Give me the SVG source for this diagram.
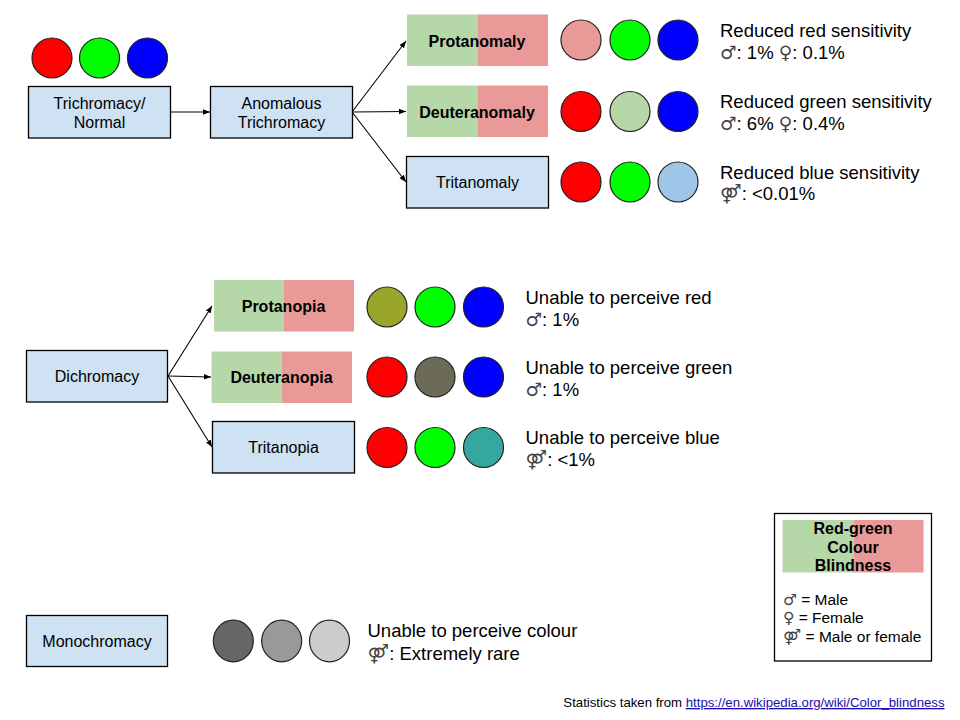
<svg xmlns="http://www.w3.org/2000/svg" width="960" height="720" viewBox="0 0 960 720">
<defs>
<marker id="arr" viewBox="0 0 10 10" refX="10" refY="5" markerWidth="7" markerHeight="7" markerUnits="userSpaceOnUse" orient="auto">
<path d="M0,1 L10,5 L0,9 z" fill="#000"/>
</marker>
<style>
text{font-family:"Liberation Sans",Arial,"DejaVu Sans",sans-serif;fill:#000}
.sym{font-family:"DejaVu Sans",sans-serif;fill:#444}
.box{fill:#cfe2f3;stroke:#000;stroke-width:1.3}
.g{fill:#b6d7a8}
.r{fill:#ea9999}
.lbl{font-size:16px;text-anchor:middle}
.b{font-size:16px;font-weight:bold;text-anchor:middle}
.desc{font-size:18.5px}
.c{stroke:#222;stroke-width:1.2}
.con{stroke:#000;stroke-width:1.1;fill:none;marker-end:url(#arr)}
</style>
</defs>
<rect width="960" height="720" fill="#fff"/>

<g id="connectors">
<line class="con" x1="170" y1="112" x2="210" y2="112"/>
<line class="con" x1="352" y1="112" x2="406" y2="41"/>
<line class="con" x1="352" y1="112" x2="406" y2="111.5"/>
<line class="con" x1="352" y1="112" x2="406" y2="182"/>
<line class="con" x1="168" y1="376" x2="212" y2="306"/>
<line class="con" x1="168" y1="376" x2="211" y2="377"/>
<line class="con" x1="168" y1="376" x2="212" y2="447"/>
</g>

<g id="normal-circles">
<circle class="c" cx="52" cy="58" r="20" fill="#ff0000"/>
<circle class="c" cx="99.5" cy="58" r="20" fill="#00ff00"/>
<circle class="c" cx="147.5" cy="58" r="20" fill="#0000ff"/>
</g>

<g id="trichromacy">
<rect class="box" x="28.5" y="86.5" width="142" height="51.5"/>
<text class="lbl" x="99.5" y="108.5">Trichromacy/</text>
<text class="lbl" x="99.5" y="127.5">Normal</text>
</g>

<g id="anomalous">
<rect class="box" x="210.5" y="86.5" width="142" height="51.5"/>
<text class="lbl" x="281.5" y="108.5">Anomalous</text>
<text class="lbl" x="281.5" y="127.5">Trichromacy</text>
</g>

<g id="protanomaly">
<rect class="g" x="407" y="14.5" width="71" height="51.5"/>
<rect class="r" x="478" y="14.5" width="70" height="51.5"/>
<text class="b" x="477" y="46.5">Protanomaly</text>
</g>
<g id="protanomaly-info">
<circle class="c" cx="581" cy="40" r="20" fill="#ea9999"/>
<circle class="c" cx="630" cy="40" r="20" fill="#00ff00"/>
<circle class="c" cx="678" cy="40" r="20" fill="#0000ff"/>
<text class="desc" x="720" y="36.5">Reduced red sensitivity</text>
<text class="desc" x="720" y="58.5"><tspan class="sym">♂</tspan>: 1% <tspan class="sym">♀</tspan>: 0.1%</text>
</g>

<g id="deuteranomaly">
<rect class="g" x="407" y="85.5" width="71" height="51.5"/>
<rect class="r" x="478" y="85.5" width="70" height="51.5"/>
<text class="b" x="477" y="117.5">Deuteranomaly</text>
</g>
<g id="deuteranomaly-info">
<circle class="c" cx="581" cy="111.5" r="20" fill="#ff0000"/>
<circle class="c" cx="630" cy="111.5" r="20" fill="#b6d7a8"/>
<circle class="c" cx="678" cy="111.5" r="20" fill="#0000ff"/>
<text class="desc" x="720" y="107.5">Reduced green sensitivity</text>
<text class="desc" x="720" y="129.5"><tspan class="sym">♂</tspan>: 6% <tspan class="sym">♀</tspan>: 0.4%</text>
</g>

<g id="tritanomaly">
<rect class="box" x="406.5" y="156.5" width="142" height="51.5"/>
<text class="lbl" x="477.5" y="188">Tritanomaly</text>
</g>
<g id="tritanomaly-info">
<circle class="c" cx="581" cy="182" r="20" fill="#ff0000"/>
<circle class="c" cx="630" cy="182" r="20" fill="#00ff00"/>
<circle class="c" cx="678" cy="182" r="20" fill="#9fc5e8"/>
<text class="desc" x="720" y="178.5">Reduced blue sensitivity</text>
<text class="desc" x="720" y="200"><tspan class="sym">⚤</tspan>: &lt;0.01%</text>
</g>

<g id="dichromacy">
<rect class="box" x="26.5" y="350.5" width="141" height="51.5"/>
<text class="lbl" x="97" y="382">Dichromacy</text>
</g>

<g id="protanopia">
<rect class="g" x="214" y="280" width="70" height="51.5"/>
<rect class="r" x="284" y="280" width="70" height="51.5"/>
<text class="b" x="283.5" y="312">Protanopia</text>
</g>
<g id="protanopia-info">
<circle class="c" cx="387" cy="307" r="20" fill="#9aa62a"/>
<circle class="c" cx="435" cy="307" r="20" fill="#00ff00"/>
<circle class="c" cx="483.5" cy="307" r="20" fill="#0000ff"/>
<text class="desc" x="525.5" y="303.5">Unable to perceive red</text>
<text class="desc" x="525.5" y="326"><tspan class="sym">♂</tspan>: 1%</text>
</g>

<g id="deuteranopia">
<rect class="g" x="211.5" y="351.5" width="70.5" height="51.5"/>
<rect class="r" x="282" y="351.5" width="70" height="51.5"/>
<text class="b" x="281.5" y="383">Deuteranopia</text>
</g>
<g id="deuteranopia-info">
<circle class="c" cx="387" cy="377" r="20" fill="#ff0000"/>
<circle class="c" cx="435" cy="377" r="20" fill="#6b6b58"/>
<circle class="c" cx="483.5" cy="377" r="20" fill="#0000ff"/>
<text class="desc" x="525.5" y="373.5">Unable to perceive green</text>
<text class="desc" x="525.5" y="396"><tspan class="sym">♂</tspan>: 1%</text>
</g>

<g id="tritanopia">
<rect class="box" x="212.5" y="421.5" width="142" height="51.5"/>
<text class="lbl" x="283.5" y="453">Tritanopia</text>
</g>
<g id="tritanopia-info">
<circle class="c" cx="387" cy="447.5" r="20" fill="#ff0000"/>
<circle class="c" cx="435" cy="447.5" r="20" fill="#00ff00"/>
<circle class="c" cx="483.5" cy="447.5" r="20" fill="#34a7a0"/>
<text class="desc" x="525.5" y="443.5">Unable to perceive blue</text>
<text class="desc" x="525.5" y="465.5"><tspan class="sym">⚤</tspan>: &lt;1%</text>
</g>

<g id="monochromacy">
<rect class="box" x="26.5" y="615.5" width="141" height="51"/>
<text class="lbl" x="97" y="647">Monochromacy</text>
</g>
<g id="monochromacy-info">
<ellipse class="c" cx="233.3" cy="641" rx="20" ry="20.8" fill="#666666"/>
<ellipse class="c" cx="281.7" cy="641" rx="20" ry="20.8" fill="#999999"/>
<ellipse class="c" cx="329.5" cy="641" rx="20" ry="20.8" fill="#cccccc"/>
<text class="desc" x="367.5" y="637">Unable to perceive colour</text>
<text class="desc" x="367.5" y="659.5"><tspan class="sym">⚤</tspan>: Extremely rare</text>
</g>

<g id="legend">
<rect x="774.5" y="513.5" width="157" height="147.5" fill="#fff" stroke="#000" stroke-width="1.3"/>
<rect class="g" x="782.5" y="520" width="71" height="52.5"/>
<rect class="r" x="853.5" y="520" width="70" height="52.5"/>
<text class="b" x="853" y="533.5">Red-green</text>
<text class="b" x="853" y="552.5">Colour</text>
<text class="b" x="853" y="571">Blindness</text>
<text x="783" y="604.5" font-size="15.5"><tspan class="sym">♂</tspan> = Male</text>
<text x="783" y="623" font-size="15.5"><tspan class="sym">♀</tspan> = Female</text>
<text x="783" y="641.5" font-size="15.5"><tspan class="sym">⚤</tspan> = Male or female</text>
</g>

<g id="footer">
<text x="944.5" y="707" font-size="13.2" text-anchor="end">Statistics taken from <tspan fill="#1a0dab" text-decoration="underline" style="fill:#1a0dab">https://en.wikipedia.org/wiki/Color_blindness</tspan></text>
</g>
</svg>
